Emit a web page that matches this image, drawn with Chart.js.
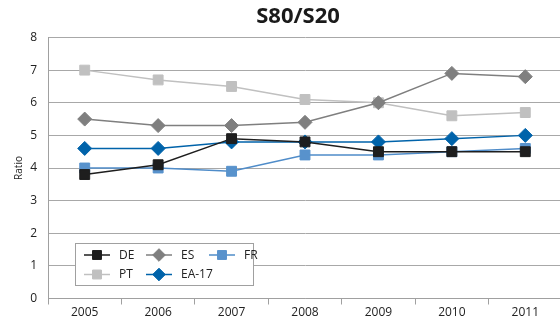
<!DOCTYPE html>
<html>
<head>
<meta charset="utf-8">
<script src="https://cdn.jsdelivr.net/npm/chart.js@4.4.1/dist/chart.umd.min.js"></script>
<style>
  body { margin: 0; background: #fff; overflow: hidden; }
  #wrap { width: 570px; height: 322px; }
</style>
</head>
<body>
<div id="wrap"><canvas id="myChart" width="570" height="322"></canvas></div>
<script>
// años (categorias del eje x)
const years = ['2005', '2006', '2007', '2008', '2009', '2010', '2011'];

// valores S80/S20 por pais
const deValues = [3.8, 4.1, 4.9, 4.8, 4.5, 4.5, 4.5];
const esValues = [5.5, 5.3, 5.3, 5.4, 6.0, 6.9, 6.8];
const frValues = [4.0, 4.0, 3.9, 4.4, 4.4, 4.5, 4.6];
const ptValues = [7.0, 6.7, 6.5, 6.1, 6.0, 5.6, 5.7];
const eaValues = [4.6, 4.6, 4.8, 4.8, 4.8, 4.9, 5.0];

const yTicks = [0, 1, 2, 3, 4, 5, 6, 7, 8];

const FONT = "'Open Sans', 'DejaVu Sans', sans-serif";

const makeSet = (label, data, color, marker, style) => ({
    label: label,
    data: data,
    borderColor: color,
    backgroundColor: marker,
    pointBackgroundColor: marker,
    pointBorderColor: marker,
    pointBorderWidth: 1,
    pointStyle: style,
    pointRadius: 7,
    borderWidth: 1.5,
    tension: 0,
    fill: false
});

const lineData = {
    labels: years,
    datasets: [
        makeSet('DE', deValues, '#1e1e1e', '#1e1e1e', 'rect'),
        makeSet('ES', esValues, '#7f7f7f', '#7f7f7f', 'rectRot'),
        makeSet('FR', frValues, '#4f8cc9', '#5892cc', 'rect'),
        makeSet('PT', ptValues, '#c0c0c0', '#c0c0c0', 'rect'),
        makeSet('EA-17', eaValues, '#0063aa', '#0063aa', 'rectRot')
    ]
};

// titulo y leyenda dibujados a mano (la leyenda va dentro del area del grafico)
const boxLegend = {
    id: 'boxLegend',
    afterDraw(chart) {
        const ctx = chart.ctx;
        ctx.save();
        ctx.fillStyle = '#1a1a1a';
        ctx.font = 'bold 22px ' + FONT;
        ctx.textAlign = 'center';
        ctx.textBaseline = 'middle';
        ctx.fillText('S80/S20', 298, 17);
        ctx.restore();
    },
    afterDatasetsDraw(chart) {
        const ctx = chart.ctx;
        ctx.save();
        ctx.fillStyle = '#ffffff';
        ctx.fillRect(75, 243, 178, 42);
        ctx.strokeStyle = '#a0a0a0';
        ctx.lineWidth = 1;
        ctx.strokeRect(75.5, 243.5, 178, 42);
        const cols = [84, 146, 209];
        const rows = [255, 274.5];
        chart.data.datasets.forEach((ds, i) => {
            const x = cols[i % 3];
            const y = rows[Math.floor(i / 3)];
            ctx.strokeStyle = ds.borderColor;
            ctx.lineWidth = 1.5;
            ctx.beginPath();
            ctx.moveTo(x, y);
            ctx.lineTo(x + 26, y);
            ctx.stroke();
            ctx.fillStyle = ds.pointBackgroundColor;
            ctx.strokeStyle = ds.pointBorderColor;
            ctx.lineWidth = 1;
            Chart.helpers.drawPoint(ctx, {pointStyle: ds.pointStyle, radius: 6.3, borderWidth: 1}, x + 13, y);
            ctx.fillStyle = '#222';
            ctx.font = '12px ' + FONT;
            ctx.textBaseline = 'middle';
            ctx.fillText(ds.label, x + 35, y + 0.5);
        });
        ctx.restore();
    }
};

const ctx = document.getElementById('myChart').getContext('2d');
window.myLineChart = new Chart(ctx, {
    type: 'line',
    data: lineData,
    plugins: [boxLegend],
    options: {
        responsive: false,
        animation: false,
        devicePixelRatio: 1,
        layout: { padding: { left: 0, right: 2, top: 37.5, bottom: 0 } },
        plugins: {
            legend: { display: false },
            tooltip: { enabled: false },
            title: { display: false }
        },
        scales: {
            x: {
                offset: true,
                grid: { drawOnChartArea: false, offset: true, tickLength: 6, color: '#a0a0a0' },
                border: { color: '#a0a0a0' },
                ticks: { color: '#222', font: { family: FONT, size: 12 }, padding: 1, maxRotation: 0 },
                afterFit: (scale) => { scale.height = 23.5; }
            },
            y: {
                min: 0,
                max: 8,
                afterBuildTicks: (scale) => { scale.ticks = yTicks.map(v => ({ value: v })); },
                grid: { color: '#a8a8a8', drawTicks: false },
                border: { color: '#a0a0a0' },
                ticks: { color: '#222', font: { family: FONT, size: 12 }, padding: 11 },
                title: {
                    display: true,
                    text: 'Ratio',
                    color: '#222',
                    font: { family: FONT, size: 10 },
                    padding: { top: 13, bottom: 0 }
                },
                afterFit: (scale) => { scale.width = 48; }
            }
        }
    }
});
</script>
</body>
</html>
